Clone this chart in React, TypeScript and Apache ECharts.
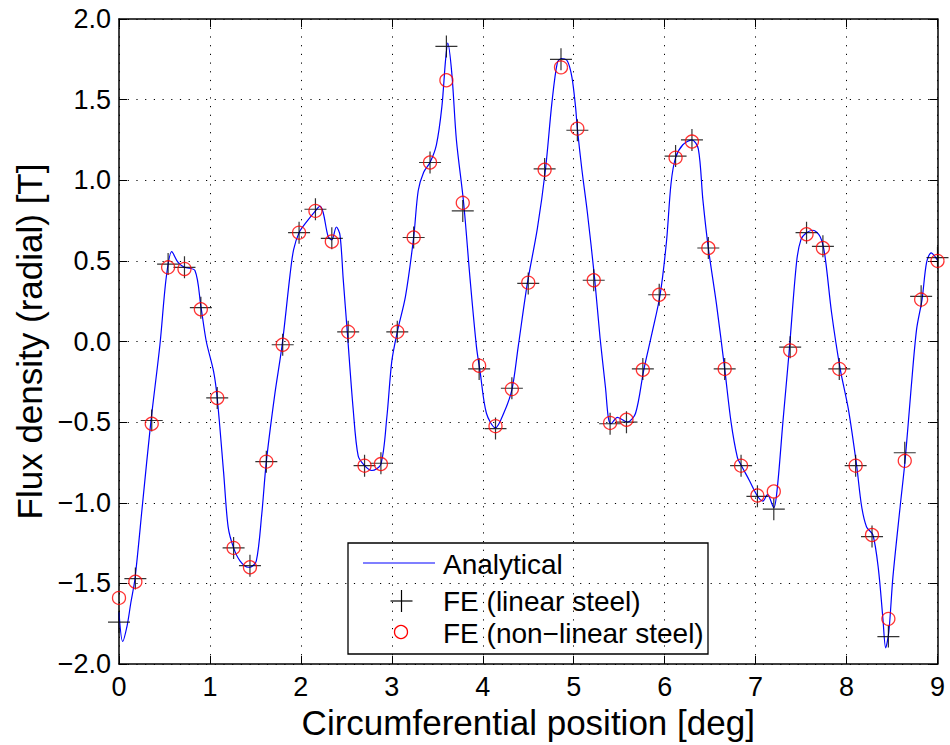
import React, { useEffect, useRef } from "react";
import * as echarts from "echarts";

// FE sample positions [deg]
const feX = [
  0.0, 0.18, 0.36, 0.54, 0.72, 0.9, 1.08, 1.26, 1.44, 1.62, 1.8, 1.98, 2.16, 2.34, 2.52, 2.7, 2.88,
  3.06, 3.24, 3.42, 3.6, 3.78, 3.96, 4.14, 4.32, 4.5, 4.68, 4.86, 5.04, 5.22, 5.4, 5.58, 5.76,
  5.94, 6.12, 6.3, 6.48, 6.66, 6.84, 7.02, 7.2, 7.38, 7.56, 7.74, 7.92, 8.1, 8.28, 8.46, 8.64,
  8.82, 9.0,
];

const linearSteel = [
  -1.74, -1.47, -0.49, 0.48, 0.46, 0.21, -0.35, -1.28, -1.39, -0.745, -0.02, 0.675, 0.82, 0.64,
  0.06, -0.77, -0.755, 0.06, 0.645, 1.11, 1.83, 0.81, -0.17, -0.54, -0.29, 0.36, 1.07, 1.75,
  1.31, 0.38, -0.51, -0.5, -0.17, 0.29, 1.15, 1.25, 0.58, -0.17, -0.77, -0.96, -1.04, -0.035,
  0.675, 0.59, -0.17, -0.77, -1.21, -1.83, -0.69, 0.28, 0.52,
];

const nonLinearSteel = [
  -1.59, -1.49, -0.51, 0.46, 0.45, 0.2, -0.35, -1.28, -1.4, -0.745, -0.02, 0.675, 0.81, 0.62,
  0.06, -0.77, -0.76, 0.06, 0.645, 1.11, 1.62, 0.86, -0.15, -0.525, -0.295, 0.365, 1.065, 1.7,
  1.32, 0.38, -0.505, -0.485, -0.175, 0.29, 1.14, 1.24, 0.58, -0.17, -0.77, -0.955, -0.93,
  -0.055, 0.665, 0.58, -0.17, -0.77, -1.2, -1.72, -0.74, 0.26, 0.5,
];

const analyticalX = [
  0.0, 0.04, 0.09, 0.13, 0.176, 0.26, 0.35, 0.45, 0.52, 0.58, 0.65, 0.72, 0.835, 0.9, 0.96, 1.04,
  1.08, 1.15, 1.2, 1.26, 1.33, 1.42, 1.44, 1.51, 1.57, 1.62, 1.71, 1.795, 1.88, 1.92, 1.98,
  2.06, 2.16, 2.21, 2.245, 2.3, 2.34, 2.39, 2.43, 2.465, 2.51, 2.575, 2.63, 2.7, 2.78, 2.88,
  2.945, 3.0, 3.06, 3.15, 3.24, 3.29, 3.35, 3.42, 3.49, 3.55, 3.59, 3.615, 3.66, 3.71, 3.79,
  3.86, 3.93, 3.97, 4.04, 4.14, 4.23, 4.32, 4.39, 4.49, 4.6, 4.69, 4.76, 4.82, 4.865, 4.93,
  4.98, 5.02, 5.04, 5.09, 5.15, 5.23, 5.29, 5.35, 5.38, 5.41, 5.48, 5.59, 5.68, 5.77, 5.86,
  5.95, 6.02, 6.07, 6.12, 6.2, 6.3, 6.37, 6.42, 6.48, 6.57, 6.66, 6.73, 6.8, 6.84, 6.93, 7.02,
  7.08, 7.13, 7.2, 7.24, 7.3, 7.37, 7.45, 7.5, 7.56, 7.63, 7.71, 7.76, 7.835, 7.93, 8.02,
  8.11, 8.165, 8.22, 8.29, 8.35, 8.4, 8.43, 8.465, 8.51, 8.59, 8.645, 8.71, 8.77, 8.83, 8.88,
  8.93, 9.0,
];

const analyticalY = [
  -1.68, -1.86, -1.76, -1.62, -1.47, -1.0, -0.5, -0.02, 0.4, 0.557, 0.49, 0.46, 0.44, 0.22, 0.0,
  -0.185, -0.35, -0.81, -1.15, -1.28, -1.36, -1.4, -1.4, -1.36, -1.07, -0.745, -0.34, -0.016,
  0.41, 0.57, 0.675, 0.74, 0.81, 0.84, 0.8, 0.65, 0.63, 0.71, 0.66, 0.39, 0.06, -0.42, -0.71,
  -0.77, -0.8, -0.76, -0.47, -0.12, 0.06, 0.28, 0.646, 0.935, 1.05, 1.11, 1.22, 1.455, 1.74,
  1.85, 1.66, 1.25, 0.857, 0.39, -0.03, -0.185, -0.445, -0.536, -0.445, -0.3, -0.03, 0.36, 0.7,
  1.07, 1.48, 1.73, 1.755, 1.74, 1.64, 1.455, 1.32, 1.065, 0.8, 0.39, 0.02, -0.29, -0.47, -0.51,
  -0.47, -0.5, -0.445, -0.177, 0.05, 0.29, 0.62, 0.98, 1.14, 1.22, 1.25, 1.195, 0.88, 0.58,
  0.23, -0.17, -0.5, -0.72, -0.766, -0.86, -0.958, -0.99, -0.95, -1.03, -0.9, -0.5, -0.055,
  0.49, 0.635, 0.674, 0.69, 0.65, 0.54, 0.18, -0.17, -0.42, -0.766, -1.02, -1.15, -1.2, -1.41,
  -1.72, -1.9, -1.8, -1.46, -1.02, -0.73, -0.29, 0.075, 0.26, 0.49, 0.55, 0.505,
];

const legendLabels = ["Analytical", "FE (linear steel)", "FE (non\u2212linear steel)"];
const xTitle = "Circumferential position [deg]";
const yTitle = "Flux density (radial) [T]";

const FONT = "'Liberation Sans', Arial, Helvetica, sans-serif";
const PLUS =
  "path://M0,10.4L22,10.4L22,11.6L0,11.6Z M10.4,0L11.6,0L11.6,22L10.4,22Z";

export default function App() {
  const ref = useRef<HTMLDivElement>(null);
  useEffect(() => {
    if (!ref.current) return;
    const chart = echarts.init(ref.current, null, { renderer: "svg" });
    const grid = { left: 119, right: 12.5, top: 19, bottom: 81 };
    const splitLine = {
      show: true,
      lineStyle: { color: "#000", width: 1, type: [1.2, 7.5] as any },
    };
    const axisLine = { show: true, onZero: false, lineStyle: { color: "#000", width: 1.5 } };
    const axisTick = { show: true, inside: true, length: 8, lineStyle: { color: "#000", width: 1 } };
    const labelStyle = { color: "#000", fontSize: 27, fontFamily: FONT };
    const textStyle = { fontSize: 28, fontFamily: FONT, fill: "#000" };
    chart.setOption({
      animation: false,
      backgroundColor: "#fff",
      grid,
      xAxis: [
        {
          type: "value",
          min: 0,
          max: 9,
          interval: 1,
          position: "bottom",
          axisLine,
          axisTick,
          splitLine,
          axisLabel: { ...labelStyle, margin: 9, formatter: (v: number) => String(v) },
          name: xTitle,
          nameLocation: "middle",
          nameGap: 23,
          nameTextStyle: { color: "#000", fontSize: 35, fontFamily: FONT },
        },
        {
          type: "value",
          min: 0,
          max: 9,
          interval: 1,
          position: "top",
          axisLine,
          axisTick,
          splitLine: { show: false },
          axisLabel: { show: false },
        },
      ],
      yAxis: [
        {
          type: "value",
          min: -2,
          max: 2,
          interval: 0.5,
          position: "left",
          axisLine,
          axisTick,
          splitLine,
          axisLabel: {
            ...labelStyle,
            margin: 8,
            formatter: (v: number) => v.toFixed(1).replace("-", "\u2212"),
          },
          name: yTitle,
          nameLocation: "middle",
          nameGap: 70,
          nameTextStyle: { color: "#000", fontSize: 35, fontFamily: FONT },
        },
        {
          type: "value",
          min: -2,
          max: 2,
          interval: 0.5,
          position: "right",
          axisLine,
          axisTick,
          splitLine: { show: false },
          axisLabel: { show: false },
        },
      ],
      series: [
        {
          name: legendLabels[0],
          type: "line",
          data: analyticalX.map((x, i) => [x, analyticalY[i]]),
          showSymbol: false,
          symbol: "none",
          smooth: 0.3,
          lineStyle: { color: "#0000ff", width: 1.2 },
          z: 2,
        },
        {
          name: legendLabels[1],
          type: "scatter",
          data: feX.map((x, i) => [x, linearSteel[i]]),
          symbol: PLUS,
          symbolSize: 22,
          itemStyle: { color: "#000" },
          z: 3,
        },
        {
          name: legendLabels[2],
          type: "scatter",
          data: feX.map((x, i) => [x, nonLinearSteel[i]]),
          symbol: "circle",
          symbolSize: 13,
          itemStyle: { color: "rgba(0,0,0,0)", borderColor: "#ff0000", borderWidth: 1.3 },
          z: 4,
        },
      ],
      graphic: [
        {
          type: "group",
          z: 100,
          children: [
            {
              type: "rect",
              shape: { x: 348, y: 543, width: 360, height: 111 },
              style: { fill: "#fff", stroke: "#000", lineWidth: 1.3 },
            },
            {
              type: "line",
              shape: { x1: 363, y1: 563, x2: 435, y2: 563 },
              style: { stroke: "#0000ff", lineWidth: 1.2 },
            },
            {
              type: "line",
              shape: { x1: 390.5, y1: 601, x2: 412.5, y2: 601 },
              style: { stroke: "#000", lineWidth: 1.2 },
            },
            {
              type: "line",
              shape: { x1: 401.5, y1: 590, x2: 401.5, y2: 612 },
              style: { stroke: "#000", lineWidth: 1.2 },
            },
            {
              type: "circle",
              shape: { cx: 401, cy: 632, r: 6.5 },
              style: { fill: "none", stroke: "#ff0000", lineWidth: 1.3 },
            },
            {
              type: "text",
              x: 443,
              y: 564,
              style: { ...textStyle, text: legendLabels[0], verticalAlign: "middle", align: "left" },
            },
            {
              type: "text",
              x: 443,
              y: 601,
              style: { ...textStyle, text: legendLabels[1], verticalAlign: "middle", align: "left" },
            },
            {
              type: "text",
              x: 443,
              y: 633,
              style: { ...textStyle, text: legendLabels[2], verticalAlign: "middle", align: "left" },
            },
          ],
        },
      ],
    });
    return () => chart.dispose();
  }, []);
  return (
    <div
      ref={ref}
      style={{ position: "absolute", left: 0, top: 0, width: 950, height: 745, background: "#fff" }}
    />
  );
}
